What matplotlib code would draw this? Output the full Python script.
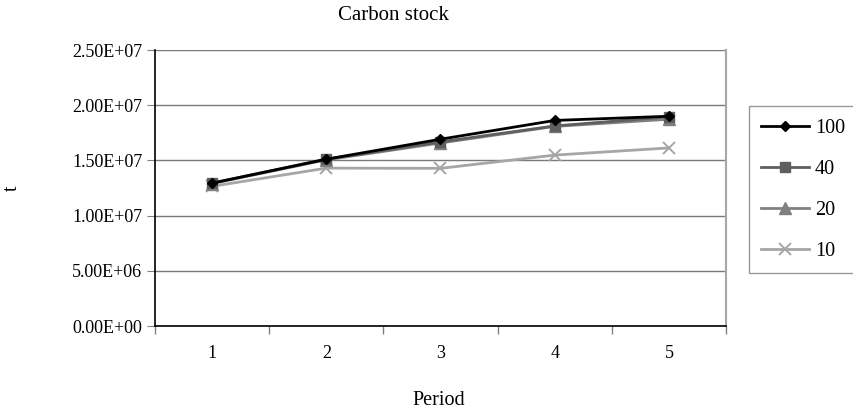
import matplotlib
matplotlib.use("Agg")
import matplotlib.pyplot as plt
import numpy as np

periods = ["1", "2", "3", "4", "5"]
s100 = [1.294e7, 1.511e7, 1.692e7, 1.862e7, 1.90e7]
s40 = [1.294e7, 1.511e7, 1.668e7, 1.812e7, 1.895e7]
s20 = [1.29e7, 1.505e7, 1.658e7, 1.808e7, 1.873e7]
s10 = [1.265e7, 1.43e7, 1.428e7, 1.548e7, 1.613e7]
labels = ["100", "40", "20", "10"]
yticks = [0, 5e6, 1e7, 1.5e7, 2e7, 2.5e7]
ylabels = ["0.00E+00", "5.00E+06", "1.00E+07", "1.50E+07", "2.00E+07", "2.50E+07"]

plt.rcParams['font.family'] = ['Liberation Serif', 'DejaVu Serif']
W, H = 854, 415
fig = plt.figure(figsize=(W/100, H/100), dpi=100)
ax = fig.add_axes([155/W, 1 - 326/H, (726-155)/W, (326-50)/H])

x = np.arange(len(periods))
ax.plot(x, s10, color='#a6a6a6', marker='x', markersize=8, mew=1.4, lw=2, label=labels[3], zorder=2)
ax.plot(x, s20, color='#808080', marker='^', markersize=8, lw=2, label=labels[2], zorder=3)
ax.plot(x, s40, color='#5f5f5f', marker='s', markersize=7.5, lw=2, label=labels[1], zorder=4)
ax.plot(x, s100, color='black', marker='D', markersize=5.5, lw=2, label=labels[0], zorder=5)

ax.set_xlim(-0.5, 4.5)
ax.set_ylim(0, 2.5e7)
ax.set_yticks(yticks)
ax.set_yticklabels(ylabels, fontsize=13)
ax.set_xticks(x)
ax.set_xticklabels(periods, fontsize=13)
ax.set_xticks(np.arange(-0.5, 5, 1), minor=True)
ax.tick_params(axis='x', which='major', length=0, pad=14)
ax.tick_params(axis='x', which='minor', length=6, direction='out', color='#808080', width=1)
ax.tick_params(axis='y', length=6, direction='out', color='#808080', pad=3)
ax.grid(axis='y', color='#7a7a7a', lw=1)
ax.set_axisbelow(True)
ax.spines['top'].set_visible(False)
ax.spines['right'].set_color('#a6a6a6')
ax.spines['right'].set_linewidth(1.5)
ax.spines['left'].set_color('black')
ax.spines['bottom'].set_color('black')
ax.spines['left'].set_linewidth(1.2)
ax.spines['bottom'].set_linewidth(1.2)

fig.text(393/W, 1 - 15/H, 'Carbon stock', fontsize=15, ha='center', va='center')
fig.text(439/W, 1 - 400/H, 'Period', fontsize=14.5, ha='center', va='center')
fig.text(12/W, 1 - 188/H, 't', fontsize=14.5, ha='center', va='center', rotation=90)

h, l = ax.get_legend_handles_labels()
order = [3, 2, 1, 0]
leg = fig.legend([h[i] for i in order], [l[i] for i in order], loc='upper left',
                 bbox_to_anchor=(749/W, 1 - 106/H), bbox_transform=fig.transFigure,
                 fontsize=14.5, frameon=True, fancybox=False, edgecolor='#808080', borderpad=0.62,
                 labelspacing=1.09, handlelength=2.35, handletextpad=0.3, borderaxespad=0)
leg.get_frame().set_linewidth(1)

fig.savefig('out.png', dpi=100)
